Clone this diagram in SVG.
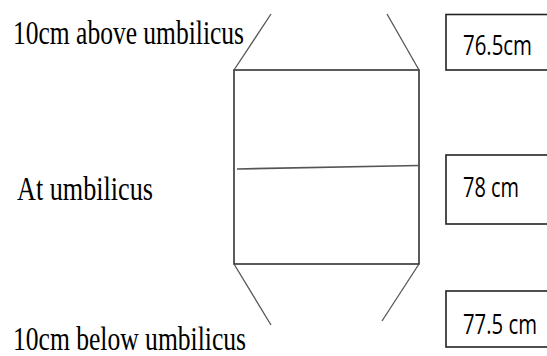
<svg xmlns="http://www.w3.org/2000/svg" width="547" height="356" viewBox="0 0 547 356">
<style>
.lbl{font-family:"Liberation Serif","Times New Roman",serif;font-size:33px;fill:#000}
.val{font-family:"Open Sans","Liberation Sans",Arial,sans-serif;font-size:27px;fill:#000}
.box{fill:#fff;stroke:#222;stroke-width:1.6}
.frame{fill:none;stroke:#333;stroke-width:1.6}
.slant{stroke:#555;stroke-width:1.3;fill:none}
</style>
<rect width="547" height="356" fill="#fff"/>
<g id="body">
<rect class="frame" x="234" y="70" width="185" height="194"/>
<line x1="237" y1="169" x2="419" y2="165.5" stroke="#555" stroke-width="1.6"/>
</g>
<g id="connectors">
<line class="slant" x1="234" y1="70" x2="271" y2="14"/>
<line class="slant" x1="419" y1="70" x2="387" y2="14"/>
<line class="slant" x1="234" y1="264" x2="271" y2="325"/>
<line class="slant" x1="419" y1="264" x2="382" y2="321"/>
</g>
<g id="label-above"><text class="lbl" x="13" y="44" textLength="231" lengthAdjust="spacingAndGlyphs">10cm above umbilicus</text></g>
<g id="label-at"><text class="lbl" x="17" y="200" textLength="136" lengthAdjust="spacingAndGlyphs">At umbilicus</text></g>
<g id="label-below"><text class="lbl" x="13" y="350" textLength="233" lengthAdjust="spacingAndGlyphs">10cm below umbilicus</text></g>
<g id="val-above">
<rect class="box" x="446" y="14.5" width="120" height="55.5"/>
<text class="val" x="463" y="55" textLength="69" lengthAdjust="spacingAndGlyphs">76.5cm</text>
</g>
<g id="val-at">
<rect class="box" x="446" y="155" width="120" height="69"/>
<text class="val" x="463" y="197" textLength="56" lengthAdjust="spacingAndGlyphs">78 cm</text>
</g>
<g id="val-below">
<rect class="box" x="446" y="291" width="120" height="56"/>
<text class="val" x="463" y="334" textLength="74" lengthAdjust="spacingAndGlyphs">77.5 cm</text>
</g>
</svg>
